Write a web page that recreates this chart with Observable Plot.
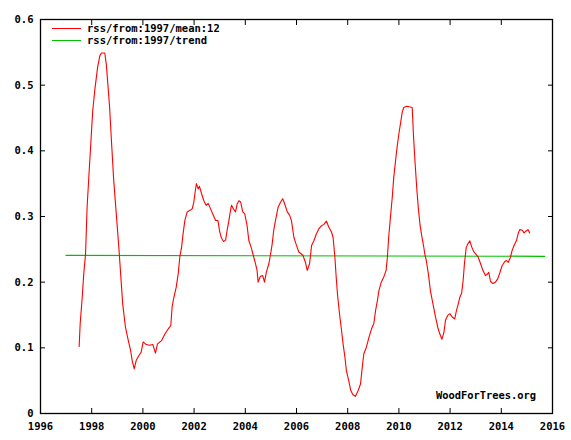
<!DOCTYPE html>
<html><head><meta charset="utf-8">
<script src="https://cdn.jsdelivr.net/npm/d3@7"></script>
<script src="https://cdn.jsdelivr.net/npm/@observablehq/plot@0.6"></script>
<style>
body{margin:0;background:#fff;}
#wrap{position:relative;width:571px;height:440px;font-family:"DejaVu Sans Mono",monospace;font-weight:bold;font-size:10.5px;}
#legend{position:absolute;left:52px;top:22px;line-height:12px;}
#legend div{display:flex;align-items:center;height:12px;}
#legend span.sw{display:inline-block;width:29px;height:0;margin-right:6px;}
#wm{position:absolute;left:436px;top:389px;font-size:10.4px;}
</style></head>
<body><div id="wrap"></div>
<script>
const seriesName = "rss/from:1997/mean:12";
const trendName = "rss/from:1997/trend";
const watermark = "WoodForTrees.org";
const xTicks = [1996,1998,2000,2002,2004,2006,2008,2010,2012,2014,2016];
const yTicks = [0,0.1,0.2,0.3,0.4,0.5,0.6];

const meanYears = [1997.51,1997.55,1997.63,1997.69,1997.76,1997.82,1997.91,1997.98,1998.04,1998.12,1998.23,1998.32,1998.38,1998.51,1998.57,1998.63,1998.70,1998.77,1998.86,1998.97,1999.06,1999.13,1999.21,1999.32,1999.43,1999.52,1999.58,1999.66,1999.74,1999.84,1999.93,2000.01,2000.13,2000.26,2000.39,2000.49,2000.57,2000.73,2000.86,2000.99,2001.09,2001.14,2001.21,2001.30,2001.38,2001.44,2001.51,2001.57,2001.64,2001.73,2001.86,
2001.93,2001.99,2002.05,2002.09,2002.16,2002.21,2002.29,2002.38,2002.47,2002.55,2002.64,2002.75,2002.84,2002.93,2002.99,2003.06,2003.15,2003.23,2003.29,2003.36,2003.42,2003.46,2003.53,2003.62,2003.68,2003.75,2003.82,2003.90,2003.98,2004.07,2004.14,2004.23,2004.31,2004.40,2004.46,2004.50,2004.59,2004.68,2004.75,2004.82,2004.92,2004.98,2005.05,2005.11,2005.18,2005.28,2005.38,2005.46,2005.54,2005.64,2005.73,2005.80,2005.90,2006.00,
2006.09,2006.25,2006.35,2006.42,2006.51,2006.59,2006.68,2006.77,2006.87,2006.98,2007.07,2007.17,2007.26,2007.37,2007.43,2007.50,2007.55,2007.60,2007.68,2007.76,2007.82,2007.89,2007.95,2008.04,2008.12,2008.20,2008.30,2008.41,2008.50,2008.57,2008.63,2008.73,2008.83,2008.93,2009.02,2009.09,2009.16,2009.22,2009.31,2009.41,2009.50,2009.55,2009.60,2009.67,2009.74,2009.80,2009.87,2009.93,2010.00,2010.06,2010.13,2010.19,2010.30,2010.40,2010.52,
2010.57,2010.63,2010.70,2010.76,2010.83,2010.89,2010.96,2011.02,2011.07,2011.15,2011.23,2011.33,2011.43,2011.52,2011.60,2011.68,2011.76,2011.82,2011.90,2011.99,2012.08,2012.18,2012.25,2012.32,2012.38,2012.45,2012.51,2012.56,2012.63,2012.69,2012.77,2012.85,2012.93,2013.02,2013.10,2013.19,2013.28,2013.38,2013.45,2013.51,2013.58,2013.67,2013.77,2013.86,2013.94,2014.03,2014.13,2014.20,2014.27,2014.36,2014.42,2014.51,2014.59,2014.66,2014.72,2014.82,2014.89,2014.97,2015.04,2015.11];
const meanValues = [0.102,0.137,0.177,0.213,0.243,0.314,0.375,0.421,0.461,0.492,0.527,0.545,0.549,0.549,0.532,0.502,0.466,0.416,0.355,0.299,0.253,0.213,0.167,0.131,0.111,0.096,0.081,0.068,0.081,0.088,0.093,0.109,0.105,0.104,0.105,0.092,0.106,0.111,0.121,0.129,0.134,0.162,0.177,0.192,0.213,0.238,0.253,0.274,0.294,0.307,0.310,
0.312,0.322,0.340,0.350,0.342,0.346,0.335,0.324,0.317,0.320,0.312,0.302,0.294,0.294,0.279,0.268,0.262,0.264,0.279,0.294,0.309,0.317,0.312,0.307,0.319,0.324,0.322,0.307,0.304,0.286,0.263,0.253,0.241,0.228,0.218,0.200,0.209,0.210,0.200,0.215,0.228,0.241,0.258,0.279,0.294,0.314,0.322,0.327,0.319,0.307,0.302,0.294,0.268,0.256,
0.246,0.241,0.230,0.218,0.228,0.256,0.263,0.273,0.281,0.286,0.288,0.293,0.284,0.276,0.268,0.238,0.208,0.182,0.152,0.126,0.106,0.086,0.065,0.050,0.035,0.029,0.026,0.035,0.045,0.071,0.091,0.101,0.116,0.129,0.137,0.157,0.172,0.187,0.200,0.208,0.218,0.238,0.268,0.299,0.329,0.360,0.385,0.406,0.426,0.441,0.459,0.466,0.468,0.467,0.466,
0.423,0.383,0.342,0.312,0.286,0.271,0.256,0.241,0.233,0.213,0.187,0.167,0.147,0.131,0.121,0.113,0.124,0.142,0.149,0.152,0.147,0.144,0.157,0.167,0.177,0.183,0.203,0.228,0.253,0.258,0.263,0.253,0.246,0.242,0.238,0.228,0.218,0.210,0.212,0.215,0.201,0.198,0.200,0.205,0.214,0.225,0.231,0.233,0.230,0.238,0.248,0.257,0.263,0.274,0.280,0.279,0.275,0.278,0.280,0.275];

const trendYears = [1997.0, 2015.7];
const trendValues = [0.2408, 0.2394];

const meanData = meanYears.map((x,i)=>({x, y: meanValues[i]}));
const trendData = trendYears.map((x,i)=>({x, y: trendValues[i]}));

const font = {fontFamily:"DejaVu Sans Mono", fontWeight:"bold", fontSize:10.5};

const chart = Plot.plot({
  width: 571, height: 440,
  marginLeft: 40, marginRight: 19, marginTop: 19, marginBottom: 27,
  style: {fontFamily:"DejaVu Sans Mono", fontWeight:"bold", fontSize:"10.5px", color:"#000", background:"#fff"},
  x: {domain:[1996,2016]},
  y: {domain:[0,0.6]},
  marks: [
    Plot.frame({stroke:"#000", strokeWidth:1.3}),
    Plot.axisX(xTicks, {anchor:"bottom", tickSize:0, tickPadding:9, tickFormat:d=>String(d), label:null, ...font}),
    Plot.axisX(xTicks, {anchor:"bottom", tickSize:-5, text:null, label:null}),
    Plot.axisX(xTicks, {anchor:"top", tickSize:-5, text:null, label:null}),
    Plot.axisY(yTicks, {anchor:"left", tickSize:0, tickPadding:7, tickFormat:d=>d===0?"0":d.toFixed(1), label:null, ...font}),
    Plot.axisY(yTicks, {anchor:"left", tickSize:-5, text:null, label:null}),
    Plot.axisY(yTicks, {anchor:"right", tickSize:-5, text:null, label:null}),
    Plot.line(trendData, {x:"x", y:"y", stroke:"#00c000", strokeWidth:1.2}),
    Plot.line(meanData, {x:"x", y:"y", stroke:"#ff0000", strokeWidth:1.1})
  ]
});
const wrap = document.getElementById("wrap");
wrap.appendChild(chart);
const leg = document.createElement("div");
leg.id = "legend";
leg.innerHTML = `<div><span class="sw" style="border-top:1.5px solid #ff0000"></span>${seriesName}</div><div><span class="sw" style="border-top:1.5px solid #00c000"></span>${trendName}</div>`;
wrap.appendChild(leg);
const wm = document.createElement("div");
wm.id = "wm"; wm.textContent = watermark;
wrap.appendChild(wm);
</script></body></html>
